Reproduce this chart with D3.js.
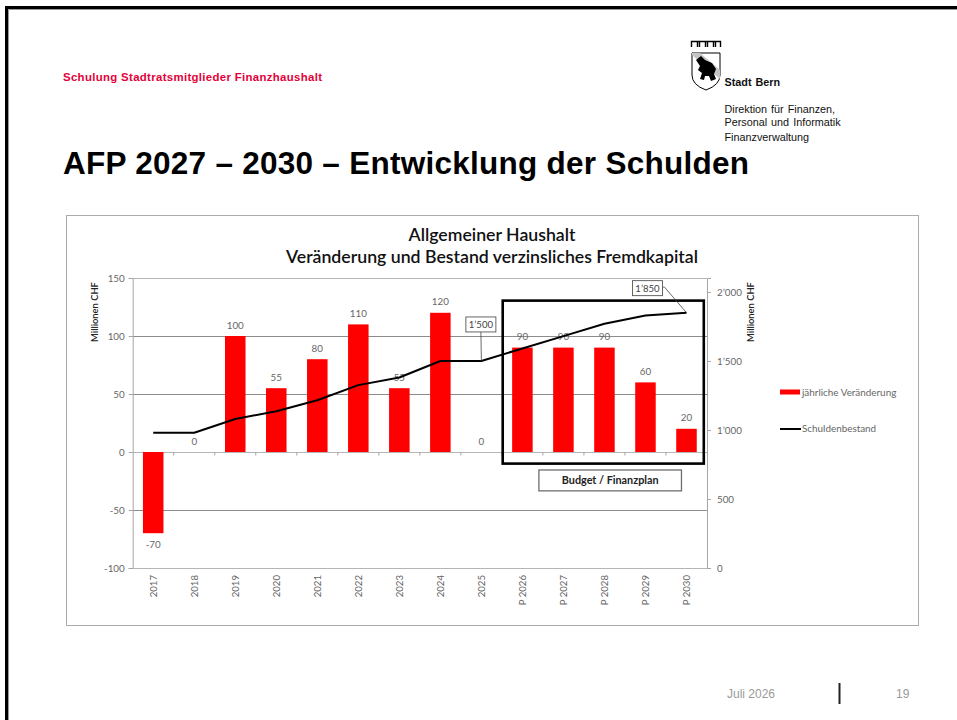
<!DOCTYPE html>
<html>
<head>
<meta charset="utf-8">
<script src="https://cdn.jsdelivr.net/npm/d3@7"></script>
<style>
  html, body { margin: 0; padding: 0; background: #fff; overflow: hidden; }
  svg { display: block; }
  .head { font-family: "Liberation Sans", Arial, sans-serif; }
  .cal { font-family: Lato, Carlito, sans-serif; }
</style>
</head>
<body>
<div id="chart"></div>
<script>
const years = ["2017","2018","2019","2020","2021","2022","2023","2024","2025","P 2026","P 2027","P 2028","P 2029","P 2030"];
const veraenderung = [-70, 0, 100, 55, 80, 110, 55, 120, 0, 90, 90, 90, 60, 20];
const schuldenbestand = [980, 980, 1080, 1135, 1215, 1325, 1380, 1500, 1500, 1590, 1680, 1770, 1830, 1850];
const leftTicks = [150, 100, 50, 0, -50, -100];
const rightTicks = [0, 500, 1000, 1500, 2000];
const calloutYears = [["2025", "1’500"], ["P 2030", "1’850"]];

const width = 957, height = 720;
const plot = {left: 132.7, right: 707, top: 278, bottom: 568};
const grey = "#666";

const svg = d3.select("#chart").append("svg")
  .attr("width", width).attr("height", height);

// slide frame, only top and left like the screenshot
svg.append("path").attr("d", "M6.5,720V7.5H957").attr("fill", "none").attr("stroke", "#000").attr("stroke-width", 3);
svg.append("path").attr("d", "M8.5,720V9.5H957").attr("fill", "none").attr("stroke", "#999").attr("stroke-width", 1);

// header
svg.append("text").attr("class", "head").attr("x", 63).attr("y", 81)
  .attr("font-size", 11.4).attr("font-weight", "bold").attr("fill", "#e4003a")
  .attr("textLength", 259).text("Schulung Stadtratsmitglieder Finanzhaushalt");

svg.append("text").attr("class", "head").attr("x", 63).attr("y", 174)
  .attr("font-size", 31.5).attr("font-weight", "bold").attr("fill", "#000")
  .attr("textLength", 686).text("AFP 2027 – 2030 – Entwicklung der Schulden");

// Stadt Bern logo, rough
const logo = svg.append("g");
logo.append("path").attr("d", "M691.5,47V41.5H720.5V47M697.5,41.5V47M699.5,47V41.5M705.5,41.5V47M707.5,47V41.5M713.5,41.5V47M715.5,47V41.5")
  .attr("fill", "none").attr("stroke", "#000").attr("stroke-width", 1.4);
logo.append("path").attr("d", "M692,53H720V75Q720,85 706,90Q692,85 692,75Z")
  .attr("fill", "#fff").attr("stroke", "#000").attr("stroke-width", 1);
logo.append("path").attr("d", "M692,55L720,79V70L700,53H692Z").attr("fill", "#c4c4c4");
logo.append("path").attr("d", "M696,60L701,56L705,60L712,63L716,69L714,74L716,79L711,81L709,76L705,76L704,80L700,79L702,73L698,70L700,66Z").attr("fill", "#000");

const headRight = [["Stadt Bern", 85.5, "bold"], ["Direktion für Finanzen,", 112.5, "normal"],
                   ["Personal und Informatik", 126, "normal"], ["Finanzverwaltung", 141, "normal"]];
svg.selectAll("text.hr").data(headRight).join("text")
  .attr("class", "head hr").attr("x", 724.5).attr("y", d => d[1])
  .attr("font-size", 10.8).attr("font-weight", d => d[2]).attr("fill", "#111")
  .style("word-spacing", "1px").text(d => d[0]);

// chart panel
svg.append("rect").attr("x", 66.5).attr("y", 215.5).attr("width", 852).attr("height", 410)
  .attr("fill", "#fff").attr("stroke", "#ababab").attr("stroke-width", 1);

const title = svg.append("g").attr("class", "cal").attr("text-anchor", "middle")
  .attr("font-weight", "600").attr("font-size", 17.7).attr("fill", "#111");
title.append("text").attr("x", 492).attr("y", 241).text("Allgemeiner Haushalt");
title.append("text").attr("x", 492).attr("y", 263).text("Veränderung und Bestand verzinsliches Fremdkapital");

// scales
const x = d3.scaleBand().domain(years).range([plot.left, plot.right]).paddingInner(0.5).paddingOuter(0.25);
const step = x.step();
const yL = d3.scaleLinear().domain([-100, 150]).range([plot.bottom, plot.top]);
const yR = d3.scaleLinear().domain([0, 2101]).range([plot.bottom, plot.top]);
const center = d => x(d) + x.bandwidth() / 2;

// gridlines
svg.append("g").selectAll("line").data(leftTicks).join("line")
  .attr("x1", plot.left).attr("x2", plot.right)
  .attr("y1", d => Math.round(yL(d)) + 0.5).attr("y2", d => Math.round(yL(d)) + 0.5)
  .attr("stroke", d => (d === 150 || d === 0 || d === -100) ? "#b5b5b5" : "#8c8c8c");

// axes
function styleAxis(g) {
  g.attr("class", "cal");
  g.selectAll("path").attr("stroke", "#a6a6a6");
  g.selectAll("line").attr("stroke", "#a6a6a6");
  g.selectAll("text").attr("fill", grey).attr("font-size", 9.8).attr("font-family", "Lato, Carlito, sans-serif");
}

svg.append("g").attr("transform", `translate(${plot.left},0)`)
  .call(d3.axisLeft(yL).tickValues(leftTicks).tickSize(4).tickPadding(4).tickFormat(d => String(d)))
  .call(styleAxis);

const deFmt = d => d3.format(",")(d).replace(/,/g, "’");
svg.append("g").attr("transform", `translate(${plot.right},0)`)
  .call(d3.axisRight(yR).tickValues(rightTicks).tickSize(4).tickPadding(6).tickFormat(deFmt))
  .call(styleAxis);

// category ticks on the zero line, between the bars
svg.append("g").selectAll("line").data(years.slice(1)).join("line")
  .attr("x1", d => x(d) - step * 0.25).attr("x2", d => x(d) - step * 0.25)
  .attr("y1", yL(0)).attr("y2", yL(0) + 3.5)
  .attr("stroke", "#a6a6a6");

// category labels
svg.append("g").attr("class", "cal").selectAll("text").data(years).join("text")
  .attr("transform", d => `translate(${center(d) + 3.5},${plot.bottom + 7}) rotate(-90)`)
  .attr("text-anchor", "end").attr("font-size", 9.6).attr("fill", grey)
  .text(d => d);

// axis titles
[95, 751].forEach(px => {
  svg.append("text").attr("class", "cal")
    .attr("transform", `translate(${px + 3},${plot.top + 34}) rotate(-90)`)
    .attr("text-anchor", "middle").attr("font-size", 9.4).attr("font-weight", "600").attr("fill", "#222")
    .text("Millionen CHF");
});

// bars
svg.append("g").selectAll("rect").data(years).join("rect")
  .attr("x", d => x(d))
  .attr("y", (d, i) => yL(Math.max(0, veraenderung[i])))
  .attr("width", x.bandwidth())
  .attr("height", (d, i) => Math.abs(yL(veraenderung[i]) - yL(0)))
  .attr("fill", "#ff0000");

// bar labels
svg.append("g").attr("class", "cal").selectAll("text").data(years).join("text")
  .attr("x", center)
  .attr("y", (d, i) => veraenderung[i] < 0 ? yL(veraenderung[i]) + 15 : yL(veraenderung[i]) - 7.5)
  .attr("text-anchor", "middle").attr("font-size", 9.8).attr("fill", grey)
  .text((d, i) => veraenderung[i]);

// debt line
const line = d3.line().x((d, i) => center(years[i])).y(d => yR(d));
svg.append("path").datum(schuldenbestand)
  .attr("d", line).attr("fill", "none").attr("stroke", "#000").attr("stroke-width", 2).attr("stroke-linejoin", "round");

// budget box
const boxLeft = x("P 2026") - step * 0.23;
svg.append("rect")
  .attr("x", boxLeft).attr("y", yL(130.5))
  .attr("width", center("P 2030") + 17.3 - boxLeft).attr("height", yL(-10) - yL(130.5))
  .attr("fill", "none").attr("stroke", "#000").attr("stroke-width", 2.6);

const budgetX = center("P 2026") + 16.5, budgetW = center("P 2029") + 36 - budgetX;
svg.append("rect")
  .attr("x", budgetX).attr("y", yL(-15.5)).attr("width", budgetW).attr("height", yL(-33.5) - yL(-15.5))
  .attr("fill", "#fff").attr("stroke", "#6e6e6e").attr("stroke-width", 1.3);
svg.append("text").attr("class", "cal")
  .attr("x", budgetX + budgetW / 2).attr("y", yL(-24.5) + 3.5)
  .attr("text-anchor", "middle").attr("font-size", 10.8).attr("font-weight", "bold").attr("fill", "#222")
  .text("Budget / Finanzplan");

// callouts
calloutYears.forEach(([yr, label]) => {
  const cx = center(yr), cy = yR(schuldenbestand[years.indexOf(yr)]);
  const isLast = yr === "P 2030";
  const bx = isLast ? cx - 54 : cx - 15.5;
  const by = isLast ? cy - 32 : cy - 44;
  svg.append("path")
    .attr("d", isLast ? `M${bx + 30},${by + 6.5}H${bx + 32}L${cx},${cy}` : `M${bx + 15},${by + 15}L${cx},${cy}`)
    .attr("fill", "none").attr("stroke", "#444").attr("stroke-width", 0.8);
  svg.append("rect").attr("x", bx).attr("y", by).attr("width", 30).attr("height", 15)
    .attr("fill", "#fff").attr("stroke", "#555").attr("stroke-width", 0.9);
  svg.append("text").attr("class", "cal").attr("x", bx + 15).attr("y", by + 11)
    .attr("text-anchor", "middle").attr("font-size", 9.6).attr("fill", "#444").text(label);
});

// legend
const legend = svg.append("g").attr("class", "cal");
legend.append("rect").attr("x", 780).attr("y", 389.5).attr("width", 20).attr("height", 5).attr("fill", "#ff0000");
legend.append("text").attr("x", 802).attr("y", 395.5).attr("font-size", 9.9).attr("fill", grey).text("jährliche Veränderung");
legend.append("line").attr("x1", 780).attr("x2", 801).attr("y1", 429).attr("y2", 429).attr("stroke", "#000").attr("stroke-width", 2);
legend.append("text").attr("x", 802).attr("y", 432).attr("font-size", 9.9).attr("fill", grey).text("Schuldenbestand");

// footer
const footer = svg.append("g").attr("class", "head").attr("font-size", 12).attr("fill", "#9a9a9a");
footer.append("text").attr("x", 727).attr("y", 698).text("Juli 2026");
footer.append("text").attr("x", 896).attr("y", 698).text("19");
svg.append("line").attr("x1", 839.5).attr("x2", 839.5).attr("y1", 683).attr("y2", 704).attr("stroke", "#222").attr("stroke-width", 2);
</script>
</body>
</html>
